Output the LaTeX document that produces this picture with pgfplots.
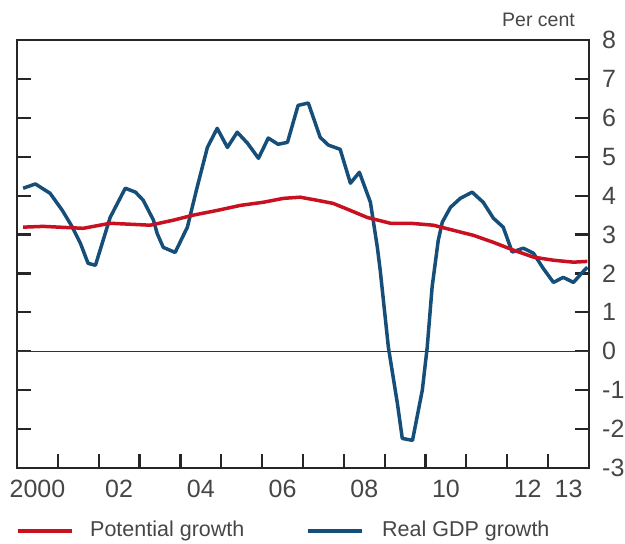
\documentclass[border=0pt]{standalone}
\usepackage{pgfplots}
\pgfplotsset{compat=1.18}
\usepackage{fontspec}
\setmainfont{Liberation Sans}
\definecolor{potred}{RGB}{200,16,32}
\definecolor{gdpblue}{RGB}{22,78,122}
\definecolor{txtgray}{RGB}{70,70,70}
\begin{document}
\begin{tikzpicture}
\begin{axis}[name=ax, at={(0,0)}, anchor=south west, scale only axis,
  width=572pt, height=428pt,
  xmin=2000, xmax=2014, ymin=-3, ymax=8,
  xtick={2001,...,2013}, xticklabels={},
  extra x ticks={2000.5,2002.5,2004.5,2006.5,2008.5,2010.5,2012.5,2013.5},
  extra x tick labels={2000,02,04,06,08,10,12,13},
  extra x tick style={major tick length=0pt},
  xtick pos=left, ytick pos=both, yticklabel pos=right, tick align=inside,
  ytick={-3,...,8}, yticklabels={-3,-2,-1,0,1,2,3,4,5,6,7,8},
  major tick length=14pt,
  tick style={line width=2.2pt, black!85},
  axis line style={line width=2.6pt, black!85},
  ticklabel style={font=\fontsize{25}{28}\selectfont, text=txtgray, inner sep=0pt},
  xticklabel style={anchor=base, yshift=-30pt},
  yticklabel style={anchor=west, xshift=13pt},
]
\addplot[black!80, line width=1.2pt] coordinates {(2000,0) (2014,0)};
\addplot[gdpblue, line width=3.5pt, line join=round] coordinates {
(2000.15,4.19) (2000.45,4.30) (2000.81,4.06) (2001.11,3.62) (2001.35,3.20)
(2001.55,2.78) (2001.74,2.26) (2001.92,2.21) (2002.28,3.44) (2002.65,4.19)
(2002.90,4.09) (2003.09,3.88) (2003.34,3.37) (2003.43,3.03) (2003.58,2.67)
(2003.87,2.54) (2004.17,3.19) (2004.41,4.22) (2004.66,5.24) (2004.90,5.73)
(2005.15,5.24) (2005.39,5.63) (2005.64,5.35) (2005.91,4.96) (2006.15,5.48)
(2006.39,5.32) (2006.62,5.37) (2006.88,6.32) (2007.13,6.38) (2007.42,5.50)
(2007.62,5.30) (2007.91,5.19) (2008.16,4.32) (2008.38,4.60) (2008.65,3.83)
(2008.82,2.67) (2008.89,2.08) (2009.09,0.10) (2009.31,-1.34) (2009.43,-2.24)
(2009.68,-2.29) (2009.92,-1.00) (2010.04,0.10) (2010.16,1.65) (2010.31,2.85)
(2010.41,3.32) (2010.61,3.70) (2010.85,3.93) (2011.14,4.09) (2011.41,3.83)
(2011.66,3.42) (2011.90,3.19) (2012.12,2.55) (2012.39,2.65) (2012.64,2.52)
(2012.88,2.13) (2013.13,1.77) (2013.37,1.90) (2013.62,1.77) (2013.84,2.03)
(2013.96,2.16)};
\addplot[potred, line width=3.5pt, line join=round] coordinates {
(2000.15,3.19) (2000.64,3.21) (2001.62,3.16) (2002.28,3.29) (2003.26,3.24)
(2003.83,3.37) (2004.32,3.50) (2004.90,3.62) (2005.47,3.75) (2006.03,3.83)
(2006.52,3.93) (2006.93,3.96) (2007.35,3.88) (2007.74,3.80) (2008.16,3.62)
(2008.57,3.44) (2009.14,3.29) (2009.63,3.29) (2010.19,3.24) (2010.68,3.11)
(2011.17,2.98) (2011.66,2.80) (2012.15,2.60) (2012.64,2.42) (2013.13,2.34)
(2013.62,2.29) (2013.96,2.31)};
\end{axis}
\node[anchor=base east, font=\fontsize{19.5}{22}\selectfont, text=txtgray, inner sep=0pt] at (558pt,441pt) {Per cent};
\draw[potred, line width=3.5pt] (1pt,-63pt) -- (55pt,-63pt);
\node[anchor=west, font=\fontsize{21.5}{24}\selectfont, text=txtgray, inner sep=0pt] at (73pt,-63pt) {Potential growth};
\draw[gdpblue, line width=3.5pt] (291pt,-63pt) -- (345pt,-63pt);
\node[anchor=west, font=\fontsize{21.5}{24}\selectfont, text=txtgray, inner sep=0pt] at (365pt,-63pt) {Real GDP growth};
\pgfresetboundingbox
\path[use as bounding box] (-17pt,-76pt) rectangle (608pt,468pt);
\end{tikzpicture}
\end{document}
